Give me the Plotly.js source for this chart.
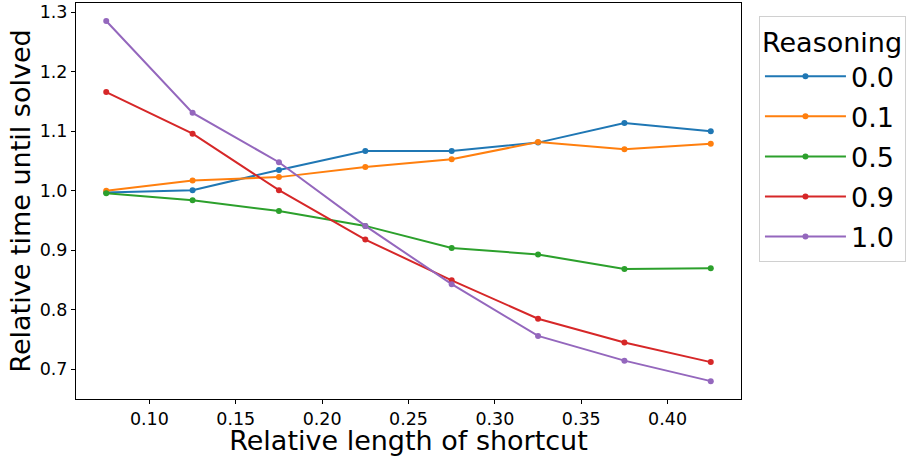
<!DOCTYPE html>
<html>
<head>
<meta charset="utf-8">
<script src="https://cdn.plot.ly/plotly-3.0.1.min.js"></script>
<style>html,body{margin:0;padding:0;background:#fff;}#chart{width:910px;height:456px;}</style>
</head>
<body>
<div id="chart"></div>
<script>
const shortcutLength = [0.075, 0.125, 0.175, 0.225, 0.275, 0.325, 0.375, 0.425];
const reasoningLabels = ["0.0", "0.1", "0.5", "0.9", "1.0"];
const r00 = [0.997, 1.001, 1.035, 1.067, 1.067, 1.081, 1.114, 1.100];
const r01 = [1.000, 1.0175, 1.023, 1.040, 1.053, 1.082, 1.070, 1.079];
const r05 = [0.996, 0.984, 0.966, 0.941, 0.904, 0.893, 0.8685, 0.870];
const r09 = [1.166, 1.096, 1.001, 0.918, 0.8495, 0.785, 0.745, 0.712];
const r10 = [1.2855, 1.131, 1.048, 0.941, 0.843, 0.756, 0.7145, 0.680];
const seriesValues = [r00, r01, r05, r09, r10];
const colors = ["#1f77b4", "#ff7f0e", "#2ca02c", "#d62728", "#9467bd"];

const traces = seriesValues.map((vals, i) => ({
  x: shortcutLength,
  y: vals,
  type: "scatter",
  mode: "lines+markers",
  name: reasoningLabels[i],
  legendgroup: "g" + i,
  line: {color: colors[i], width: 2},
  marker: {color: colors[i], size: 6}
}));

const font = "DejaVu Sans, sans-serif";
const layout = {
  width: 910, height: 456,
  margin: {l: 76, r: 169, t: 3, b: 57, autoexpand: false},
  paper_bgcolor: "#fff", plot_bgcolor: "#fff",
  font: {family: font, color: "#000"},
  xaxis: {
    range: [0.0575, 0.4425],
    tickmode: "linear", tick0: 0.1, dtick: 0.05, tickformat: ".2f",
    ticks: "outside", ticklen: 4, tickcolor: "#000",
    showline: true, linecolor: "#000", linewidth: 1, mirror: true,
    showgrid: false, zeroline: false,
    tickfont: {size: 17.5, family: font},
    title: {text: "Relative length of shortcut", font: {size: 27, family: font}, standoff: 8}
  },
  yaxis: {
    range: [0.650, 1.3157],
    tickmode: "linear", tick0: 0.7, dtick: 0.1, tickformat: ".1f",
    ticks: "outside", ticklen: 4, tickcolor: "#000",
    showline: true, linecolor: "#000", linewidth: 1, mirror: true,
    showgrid: false, zeroline: false,
    tickfont: {size: 17.5, family: font},
    title: {text: "Relative time until solved", font: {size: 27, family: font}, standoff: 1}
  },
  legend: {
    x: 1.027, xanchor: "left", y: 0.967, yanchor: "top",
    bordercolor: "#d0d0d0", borderwidth: 1, bgcolor: "#fff",
    font: {size: 27, family: font},
    title: {text: "Reasoning", font: {size: 27, family: font}},
    tracegroupgap: 2,
    itemwidth: 81
  },
  showlegend: true
};

Plotly.newPlot("chart", traces, layout, {displayModeBar: false, staticPlot: true});
</script>
</body>
</html>
